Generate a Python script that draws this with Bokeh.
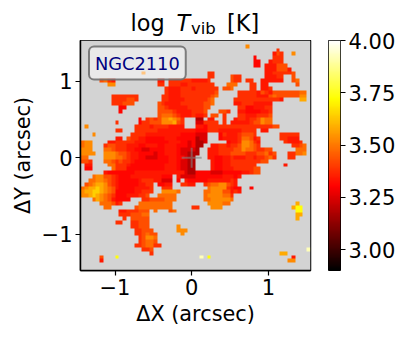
import numpy as np
from bokeh.plotting import figure
from bokeh.layouts import column, row
from bokeh.models import LinearColorMapper, FixedTicker, Label, PrintfTickFormatter
from bokeh.core.properties import value
from bokeh.embed import file_html
from bokeh.resources import INLINE

level_codes = "123456789abc"
level_values = [3.18, 3.25, 3.31, 3.34, 3.38, 3.43, 3.48, 3.53, 3.58, 3.64, 3.73, 3.92]

map_rows = [
 "",
 ".......... .......... .......... .......... ...8......",
 ".......... .......... .......... .......... .......... .5........",
 ".......... .......... .......... .......... .......... 465..8....",
 ".......... .......... .......... .......... .....3.... 555.......",
 ".......... .......... .......... .......... .....33..4 555.......",
 ".......... .......... .......... .......... .....33.44 4666......",
 ".......... .......... .......... .......... ........44 46664.....",
 ".......... ......8... .......... ...55..... ........44 555556....",
 ".......... .......... .......... ...55....6 55......44 455..6....",
 ".....6754. .......... 44.5555554 4445.....6 55.55..444 444..67...",
 ".......88. .......... 55.5554455 55555...77 7...55.44. ......6...",
 ".......... .......... ..54445554 555555.667 ....55.445",
 ".......... .......... ..54445555 555556.... .555554654 666666677.",
 "........55 55555..... .554445555 555567.... .555554446 766666688.",
 "........55 55665..... .554444555 55567..... 5555555555 554....99.",
 "........55 5666...... 6544445555 55667..... 4455544444",
 ".......... 33........ 6654444455 5566...... .553344455",
 ".......... 3......... 6666544445 556...665. .443333445",
 ".......... .......... 6777654445 445.66.5.. .554445556",
 ".......... .....3.565 6889875... 11.44..5.. 4554556877",
 ".........5 .....35566 6888965... 225555.5.4 4444566877",
 ".8........ ....555545 5554444... 4435555555 5555555555 66........",
 ".........5 5...555555 4444444444 3335554444 445555.44.",
 "...8...... ...5555444 4444443333 222...3544 456665.... ..55555...",
 ".........4 4.65544333 3344433333 122...3444 4577645... ..55444...",
 "788....445 5555444333 3334443323 112.....34 4588754... ...54445..",
 "788...5665 5544433444 3344433323 11..445545 5688765... .....5567.",
 "888...7765 5544332233 3344432222 1..4445555 6687765566 ......777.",
 "8888..8887 6654433332 3344432211 1..4445556 6665556675 6...55778.",
 "77....8887 7654433222 3334433211 ...4433445 4445545567 5...55....",
 "665...7765 6554333333 3334432211 ....433445 555555566.",
 ".44....775 5543333333 3344432211 ....433445 555555.... ...4......",
 ".33.....75 5533333333 3344432211 ....433444 5555566...",
 "......4333 3333444444 4444444211 3333222333 3344566...",
 "...7886654 3334444444 4333.42222 3333333444 34........",
 "..77887654 3333345554 4222.3.433 3334444445 4.........",
 ".678998654 333334455. 3344..5544 ..56778865 4.........",
 "7899a98764 333344445. .555...... ...7888854 33..3.....",
 "899aa98763 333344555. .88887.... ..77888664 54........",
 "889a987653 33444556.. 77777..... ..78888775",
 "...7987643 333...5566 66777..... ..77888887",
 ".....77764 5....77777 7777...... ...888877. .......... ......9...",
 "......77.. ....677777 7777.....5 5...888... .......... .....9bb..",
 ".......... 44555666.7 ...67..... .......... .......... ......bb..",
 ".......... 55566677.. .......... .......... .......... ......99..",
 ".......... .5.66666.. .......... .......... .......... ......9...",
 ".........5 5..55666..",
 ".......... ...55666.. .....8....",
 ".......... ....55666. .....888..",
 ".......... ....556766 ......8...",
 ".......... .....56887",
 ".......... .....56776",
 ".......... ....556775 5.........",
 ".......... ......556. .......... .......... .......... .........c",
 ".......... ........5. .......... .......... .......... ..99......",
 ".....6...b .......... .......... .c.b...... .......... .....4....",
 ".....4.... .......... .......... .......... .......... ....88....",
]

cell_size = 0.05
x_limits = (-1.45, 1.55)
y_limits = (-1.47, 1.53)
x_ticks = [-1, 0, 1]
y_ticks = [-1, 0, 1]
bar_limits = (2.9, 4.0)
bar_ticks = [3.0, 3.25, 3.5, 3.75, 4.0]

grid = np.full((60, 60), np.nan)
for r, row_text in enumerate(map_rows):
    for c, ch in enumerate(row_text.replace(" ", "")):
        if ch != ".":
            grid[59 - r, c] = level_values[level_codes.index(ch)]
# Repeating the cells keeps their edges sharp when the browser scales the image.
grid = np.repeat(np.repeat(grid, 8, axis=0), 8, axis=1)

t = np.linspace(0, 1, 256)
red = np.clip(t / 0.365, 0, 1)
green = np.clip((t - 0.365) / 0.381, 0, 1)
blue = np.clip((t - 0.746) / 0.254, 0, 1)
hot = ["#%02x%02x%02x" % (int(a * 255), int(b * 255), int(d * 255)) for a, b, d in zip(red, green, blue)]
mapper = LinearColorMapper(palette=hot, low=bar_limits[0], high=bar_limits[1], nan_color="#d3d3d3")

# Strip above the axes that carries the title with its italic T and subscript.
head = figure(width=320, height=40, frame_width=230, frame_height=40,
              x_range=(80, 310), y_range=(40, 0), x_axis_location=None, y_axis_location=None,
              output_backend="svg", toolbar_location=None,
              min_border_left=80, min_border_right=10, min_border_top=0, min_border_bottom=0,
              outline_line_color=None)
head.grid.visible = False
title_parts = [("log", "normal", "22.4px", 130, 22), ("T", "italic", "22.4px", 176, 22),
               ("vib", "normal", "16.5px", 190.5, 27.9), ("[K]", "normal", "22.4px", 226.5, 22)]
for text, style, size, x, y in title_parts:
    head.text([x], [y], text=[text], text_font=value("DejaVu Sans"), text_font_style=style,
              text_font_size=size, text_baseline="alphabetic", text_color="black")

p = figure(width=320, height=298, frame_width=230, frame_height=230,
           x_range=x_limits, y_range=y_limits, output_backend="svg", toolbar_location=None,
           min_border_left=80, min_border_top=0, min_border_right=10, min_border_bottom=0,
           background_fill_color="#d3d3d3", border_fill_color="white")
p.grid.visible = False
p.outline_line_color = "black"
p.outline_line_width = 1.5

p.image(image=[grid], x=x_limits[0], y=y_limits[1] - 60 * cell_size,
        dw=60 * cell_size, dh=60 * cell_size, color_mapper=mapper)
p.scatter([0], [0], marker="cross", size=20, line_color="#808080", line_width=2, line_alpha=0.6)

for ax, ticks, name in ((p.xaxis[0], x_ticks, "\u0394X (arcsec)"), (p.yaxis[0], y_ticks, "\u0394Y (arcsec)")):
    ax.ticker = FixedTicker(ticks=ticks)
    ax.major_label_overrides = {k: str(k).replace("-", "\u2212") for k in ticks}
    ax.axis_label = name
    ax.axis_label_text_font = "DejaVu Sans"
    ax.axis_label_text_font_size = "20.8px"
    ax.axis_label_text_font_style = "normal"
    ax.axis_label_text_color = "black"
    ax.major_label_text_font = "DejaVu Sans"
    ax.major_label_text_font_size = "21px"
    ax.major_label_text_color = "black"
    ax.major_tick_in = 0
    ax.major_tick_out = 5
    ax.major_tick_line_width = 1.2
    ax.minor_tick_line_color = None
    ax.axis_line_width = 1.5
    ax.axis_label_standoff = 4
    ax.major_label_standoff = 3
p.yaxis[0].major_label_orientation = "horizontal"

box = Label(x=8.5, y=191, x_units="screen", y_units="screen", text="NGC2110",
            text_font="DejaVu Sans", text_font_size="17.8px", text_color="#000080",
            background_fill_color="white", background_fill_alpha=0.5,
            border_line_color="#707070", border_line_width=2, border_line_alpha=0.9,
            border_radius=5, padding=6)
p.add_layout(box)

# Colour bar as its own narrow figure, so that the top tick label stays centred on its tick.
bar = figure(width=86, height=338, frame_width=12, frame_height=230,
             x_range=(0, 1), y_range=bar_limits, x_axis_location=None, y_axis_location="right",
             output_backend="svg", toolbar_location=None,
             min_border_left=8, min_border_top=40, min_border_bottom=68, min_border_right=0,
             outline_line_color="black", outline_line_width=1)
bar.grid.visible = False
bar.image(image=[np.linspace(bar_limits[0], bar_limits[1], 256).reshape(256, 1)], x=0, y=bar_limits[0],
          dw=1, dh=bar_limits[1] - bar_limits[0], color_mapper=mapper)
bar_axis = bar.yaxis[0]
bar_axis.ticker = FixedTicker(ticks=bar_ticks)
bar_axis.formatter = PrintfTickFormatter(format="%.2f")
bar_axis.major_label_text_font = "DejaVu Sans"
bar_axis.major_label_text_font_size = "21px"
bar_axis.major_label_text_color = "black"
bar_axis.major_label_orientation = "horizontal"
bar_axis.major_tick_in = 0
bar_axis.major_tick_out = 5
bar_axis.major_tick_line_width = 1.2
bar_axis.minor_tick_line_color = None
bar_axis.axis_line_color = None
bar_axis.major_label_standoff = 3

open("out.html", "w").write(file_html(row(column(head, p), bar), INLINE))
